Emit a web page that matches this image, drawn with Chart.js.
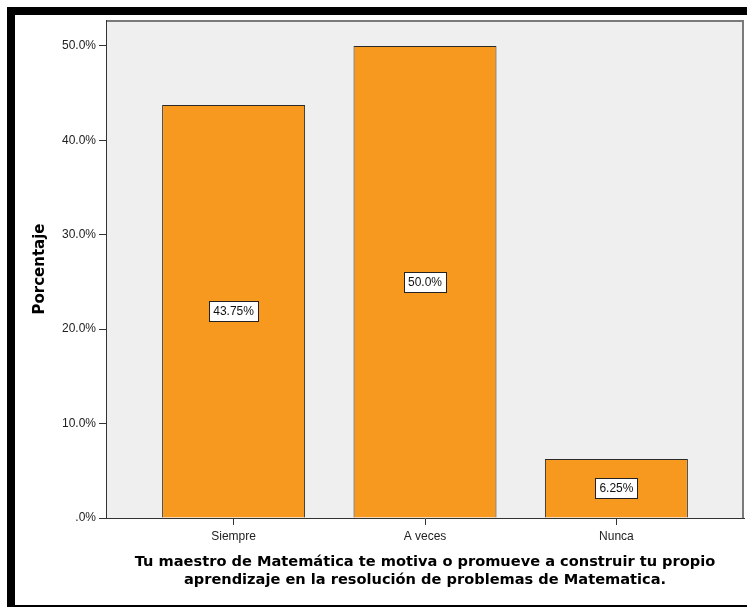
<!DOCTYPE html>
<html>
<head>
<meta charset="utf-8">
<script src="https://cdn.jsdelivr.net/npm/chart.js@4"></script>
<style>
  html, body { margin: 0; padding: 0; background: #fff; }
  #wrap { position: relative; width: 747px; height: 607px; overflow: hidden; }
  #frame {
    position: absolute; left: 7px; top: 7px; width: 760px; height: 590px;
    border-left: 8px solid #000; border-top: 8px solid #000; border-bottom: 2px solid #000;
  }
  #chart { position: absolute; left: 0; top: 0; }
</style>
</head>
<body>
<div id="wrap">
  <div id="frame"></div>
  <canvas id="chart" width="747" height="607"></canvas>
</div>
<script>
// Data
const categories = ['Siempre', 'A veces', 'Nunca'];
const percentages = [43.75, 50.0, 6.25];
const valueLabels = ['43.75%', '50.0%', '6.25%'];
const yTicks = [0, 10, 20, 30, 40, 50];
const yTickLabels = ['.0%', '10.0%', '20.0%', '30.0%', '40.0%', '50.0%'];
const xTitle = ['Tu maestro de Matemática te motiva o promueve a construir tu propio',
  'aprendizaje en la resolución de problemas de Matematica.'];
const yTitle = 'Porcentaje';

// Gray plot background plus the top/right frame
const plotFrame = {
  id: 'plotFrame',
  beforeDraw(chart) {
    const { ctx, chartArea: a } = chart;
    ctx.save();
    ctx.fillStyle = '#efefef';
    ctx.fillRect(a.left, a.top, a.right - a.left, a.bottom - a.top);
    ctx.strokeStyle = '#7a7a7a';
    ctx.lineWidth = 2;
    ctx.beginPath();
    ctx.moveTo(a.left, a.top + 1);
    ctx.lineTo(a.right - 1, a.top + 1);
    ctx.lineTo(a.right - 1, a.bottom);
    ctx.stroke();
    ctx.restore();
  }
};

// Boxed value labels at mid-height of each bar
const boxLabels = {
  id: 'boxLabels',
  afterDatasetsDraw(chart) {
    const { ctx } = chart;
    const meta = chart.getDatasetMeta(0);
    ctx.save();
    ctx.font = '12px "Liberation Sans", Arial, sans-serif';
    ctx.textAlign = 'center';
    ctx.textBaseline = 'middle';
    meta.data.forEach((bar, i) => {
      const txt = valueLabels[i];
      const y = (bar.y + bar.base) / 2;
      const w = Math.round(ctx.measureText(txt).width) + 8;
      const h = 20;
      const x0 = Math.round(bar.x - w / 2) + 0.5;
      const y0 = Math.round(y - h / 2) + 0.5;
      ctx.fillStyle = '#fff';
      ctx.fillRect(x0, y0, w, h);
      ctx.strokeStyle = '#222';
      ctx.lineWidth = 1;
      ctx.strokeRect(x0, y0, w, h);
      ctx.fillStyle = '#111';
      ctx.fillText(txt, bar.x, y0 + h / 2 + 0.5);
    });
    ctx.restore();
  }
};

new Chart(document.getElementById('chart'), {
  type: 'bar',
  data: {
    datasets: [{
      data: percentages.map((v, i) => ({ x: i, y: v })),
      backgroundColor: '#f7991f',
      borderColor: '#2a2a2a',
      borderWidth: 1,
      barPercentage: 0.747,
      categoryPercentage: 1
    }]
  },
  options: {
    responsive: false,
    animation: false,
    layout: { padding: { top: 20, right: 3, left: 0, bottom: 0 } },
    plugins: { legend: { display: false }, tooltip: { enabled: false } },
    scales: {
      x: {
        type: 'linear',
        offset: false,
        min: -2 / 3,
        max: 8 / 3,
        afterBuildTicks: s => { s.ticks = categories.map((c, i) => ({ value: i })); },
        afterFit: s => { s.height = 89; },
        grid: { offset: false, drawOnChartArea: false, tickLength: 7, tickColor: '#333' },
        border: { color: '#333', width: 1 },
        ticks: {
          padding: 4,
          color: '#222',
          font: { family: '"Liberation Sans", Arial, sans-serif', size: 12 },
          callback: v => categories[v]
        },
        title: {
          display: true,
          text: xTitle,
          color: '#000',
          font: { family: '"DejaVu Sans", Verdana, sans-serif', size: 14.6, weight: 'bold', lineHeight: '18px' },
          padding: { top: 0, bottom: 18 }
        }
      },
      y: {
        min: 0,
        max: 52.75,
        afterBuildTicks: s => { s.ticks = yTicks.map(v => ({ value: v })); },
        afterFit: s => { s.width = 106; },
        grid: { drawOnChartArea: false, tickLength: 7, tickColor: '#333' },
        border: { color: '#333', width: 1 },
        ticks: {
          padding: 3,
          color: '#222',
          font: { family: '"Liberation Sans", Arial, sans-serif', size: 12 },
          callback: v => yTickLabels[yTicks.indexOf(v)]
        },
        title: {
          display: true,
          text: yTitle,
          color: '#000',
          font: { family: '"DejaVu Sans", Verdana, sans-serif', size: 15, weight: 'bold', lineHeight: '18px' },
          padding: { top: 31, bottom: 0 }
        }
      }
    }
  },
  plugins: [plotFrame, boxLabels]
});
</script>
</body>
</html>
